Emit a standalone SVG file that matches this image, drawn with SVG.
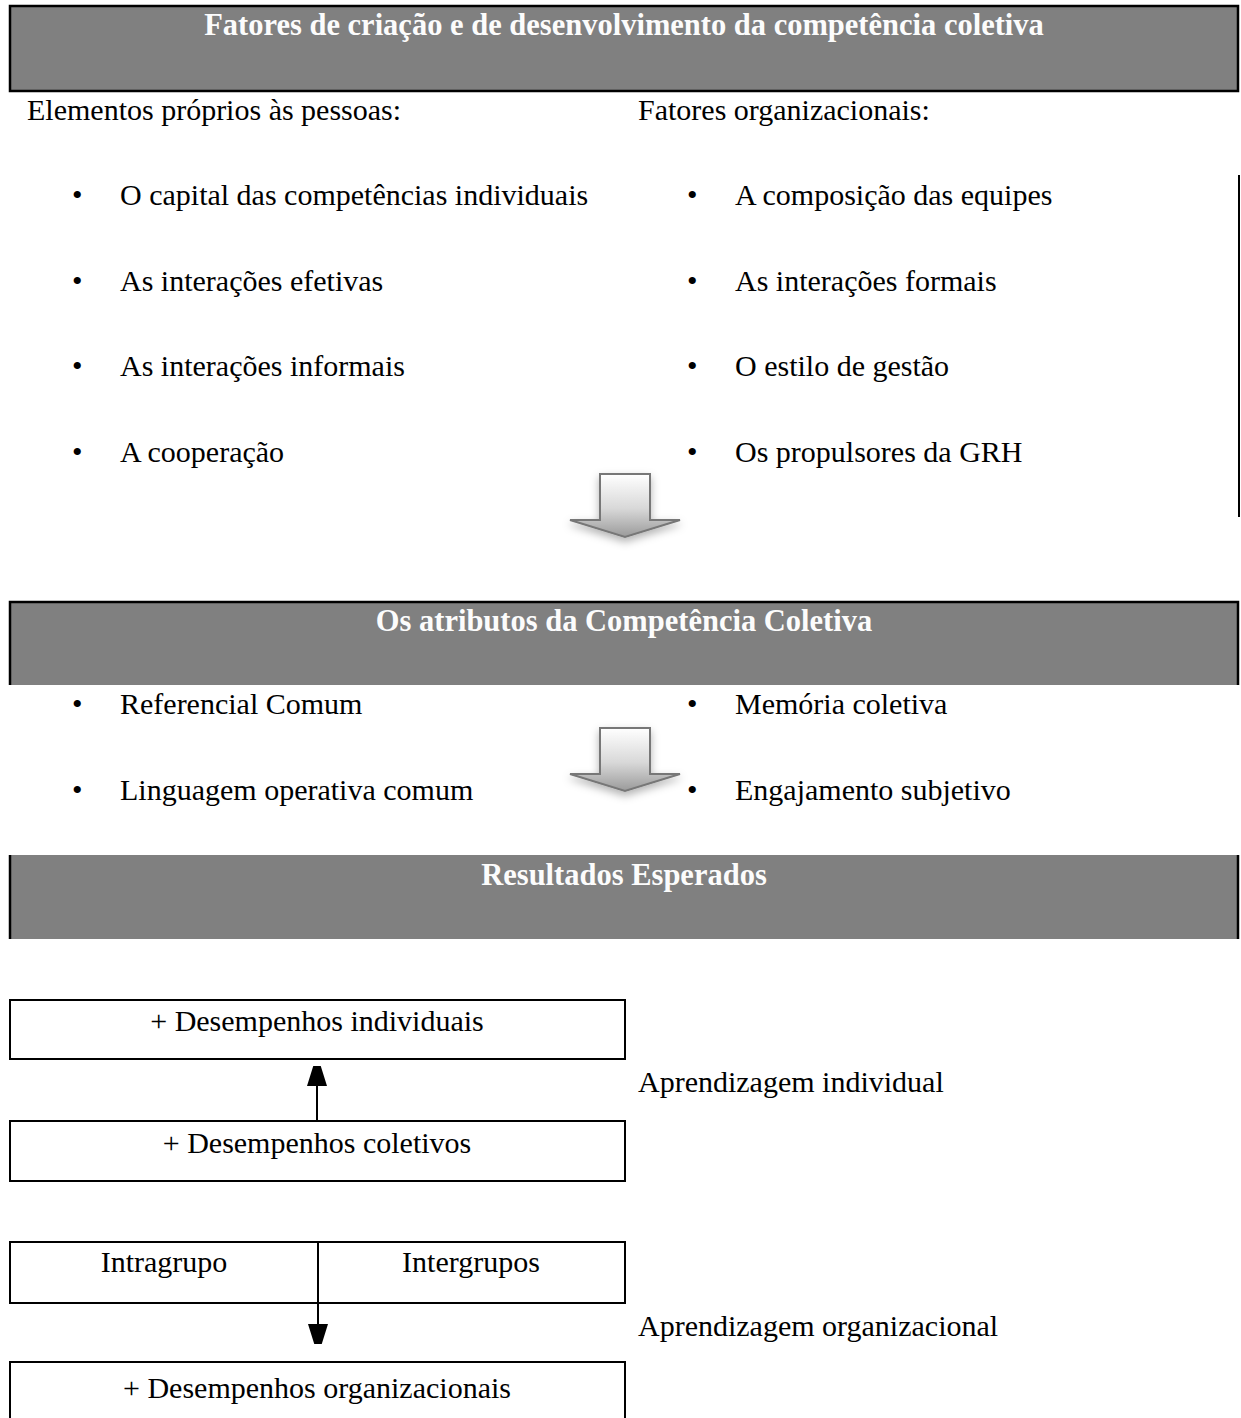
<svg xmlns="http://www.w3.org/2000/svg" width="1241" height="1418" viewBox="0 0 1241 1418">
  <style>
    .t { font-family: "Liberation Serif", "Times New Roman", serif; font-size: 30px; fill: #000; }
    .hd { font-family: "Liberation Serif", "Times New Roman", serif; font-size: 30.5px; font-weight: bold; fill: #fcfcfc; }
    .bar { fill: #808080; }
    .edge { stroke: #000; stroke-width: 2.5; fill: none; }
    .box { fill: #fff; stroke: #000; stroke-width: 2; }
    .ln { stroke: #000; stroke-width: 2; fill: none; }
    .big { fill: url(#bigArrowFill); stroke: #777; stroke-width: 2; filter: url(#softShadow); }
  </style>
  <defs>
    <linearGradient id="bigArrowFill" x1="0" y1="0" x2="0" y2="1">
      <stop offset="0" stop-color="#ffffff"/>
      <stop offset="0.55" stop-color="#d8d8d8"/>
      <stop offset="1" stop-color="#9a9a9a"/>
    </linearGradient>
    <filter id="softShadow" x="-30%" y="-30%" width="160%" height="170%">
      <feDropShadow dx="0" dy="4" stdDeviation="4" flood-color="#000" flood-opacity="0.3"/>
    </filter>
    <marker id="tri" viewBox="0 0 20 32" refX="20" refY="10" markerWidth="20" markerHeight="32" markerUnits="userSpaceOnUse" orient="auto">
      <path d="M0,0 L32,10 L0,20 Z" fill="#000"/>
    </marker>
  </defs>

  <!-- Section 1: creation and development factors -->
  <g id="header-fatores">
    <rect class="bar" x="10" y="6" width="1228" height="85"/>
    <rect class="edge" x="10" y="6" width="1228" height="85"/>
    <text class="hd" x="624" y="35" text-anchor="middle">Fatores de criação e de desenvolvimento da competência coletiva</text>
  </g>

  <g id="col-pessoas">
    <text class="t" x="27" y="120">Elementos próprios às pessoas:</text>
    <text class="t" x="72" y="205">•</text><text class="t" x="120" y="205">O capital das competências individuais</text>
    <text class="t" x="72" y="291">•</text><text class="t" x="120" y="291">As interações efetivas</text>
    <text class="t" x="72" y="376">•</text><text class="t" x="120" y="376">As interações informais</text>
    <text class="t" x="72" y="462">•</text><text class="t" x="120" y="462">A cooperação</text>
  </g>

  <g id="col-organizacionais">
    <text class="t" x="638" y="120">Fatores organizacionais:</text>
    <text class="t" x="687" y="205">•</text><text class="t" x="735" y="205">A composição das equipes</text>
    <text class="t" x="687" y="291">•</text><text class="t" x="735" y="291">As interações formais</text>
    <text class="t" x="687" y="376">•</text><text class="t" x="735" y="376">O estilo de gestão</text>
    <text class="t" x="687" y="462">•</text><text class="t" x="735" y="462">Os propulsores da GRH</text>
    <line class="ln" x1="1239" y1="175" x2="1239" y2="517"/>
  </g>

  <!-- Section 2: attributes -->
  <g id="header-atributos">
    <rect class="bar" x="10" y="602" width="1228" height="83"/>
    <polyline class="edge" points="10,685 10,602 1238,602 1238,685"/>
    <text class="hd" x="624" y="631" text-anchor="middle">Os atributos da Competência Coletiva</text>
  </g>

  <g id="atributos">
    <text class="t" x="72" y="714">•</text><text class="t" x="120" y="714">Referencial Comum</text>
    <text class="t" x="72" y="800">•</text><text class="t" x="120" y="800">Linguagem operativa comum</text>
    <text class="t" x="687" y="714">•</text><text class="t" x="735" y="714">Memória coletiva</text>
    <text class="t" x="687" y="800">•</text><text class="t" x="735" y="800">Engajamento subjetivo</text>
  </g>

  <!-- Section 3: expected results -->
  <g id="header-resultados">
    <rect class="bar" x="10" y="855" width="1228" height="84"/>
    <line class="edge" x1="10" y1="855" x2="10" y2="939"/>
    <line class="edge" x1="1238" y1="855" x2="1238" y2="939"/>
    <text class="hd" x="624" y="885" text-anchor="middle">Resultados Esperados</text>
  </g>

  <g id="box-individuais">
    <rect class="box" x="10" y="1000" width="615" height="59"/>
    <text class="t" x="317" y="1031" text-anchor="middle">+ Desempenhos individuais</text>
  </g>
  <g id="box-coletivos">
    <rect class="box" x="10" y="1121" width="615" height="60"/>
    <text class="t" x="317" y="1153" text-anchor="middle">+ Desempenhos coletivos</text>
  </g>
  <g id="box-grupos">
    <rect class="box" x="10" y="1242" width="615" height="61"/>
    <line class="ln" x1="318" y1="1242" x2="318" y2="1303"/>
    <text class="t" x="164" y="1272" text-anchor="middle">Intragrupo</text>
    <text class="t" x="471" y="1272" text-anchor="middle">Intergrupos</text>
  </g>
  <g id="box-organizacionais">
    <rect class="box" x="10" y="1362" width="615" height="70"/>
    <text class="t" x="317" y="1398" text-anchor="middle">+ Desempenhos organizacionais</text>
  </g>

  <g id="label-individual">
    <text class="t" x="638" y="1092">Aprendizagem individual</text>
  </g>
  <g id="label-organizacional">
    <text class="t" x="638" y="1336">Aprendizagem organizacional</text>
  </g>

  <!-- Connectors -->
  <g id="connectors">
    <path class="big" d="M600,474 H650 V520 H680 L625,537 L570,520 H600 Z"/>
    <path class="big" d="M600,728 H650 V774 H680 L625,791 L570,774 H600 Z"/>
    <line class="ln" x1="317" y1="1120" x2="317" y2="1066" marker-end="url(#tri)"/>
    <line class="ln" x1="318" y1="1303" x2="318" y2="1344" marker-end="url(#tri)"/>
  </g>
</svg>
